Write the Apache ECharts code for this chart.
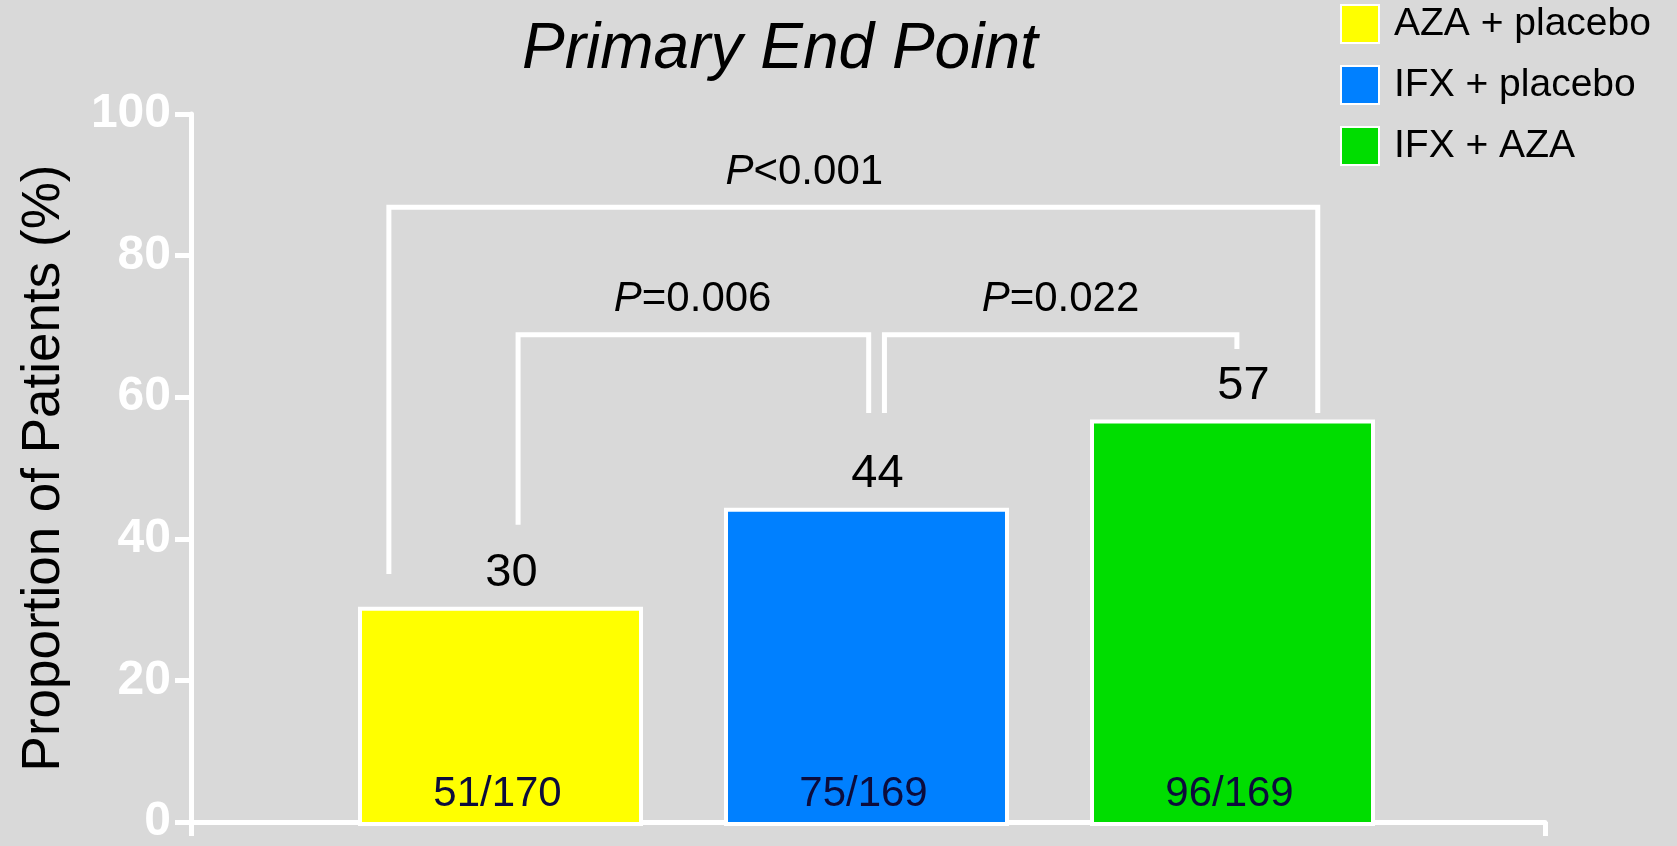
<!DOCTYPE html>
<html>
<head>
<meta charset="utf-8">
<script src="https://cdn.jsdelivr.net/npm/echarts@6/dist/echarts.min.js"></script>
<style>
  html, body { margin: 0; padding: 0; background: #d9d9d9; }
  #chart { width: 1677px; height: 846px; }
</style>
</head>
<body>
<div id="chart"></div>
<script>
// data
const categories = ['AZA + placebo', 'IFX + placebo', 'IFX + AZA']
const proportions = [30.8, 44.7, 57.1]
const valueLabels = ['30', '44', '57']
const countLabels = ['51/170', '75/169', '96/169']
const barColors = ['#ffff00', '#0080ff', '#00dd00']

// significance brackets (x in category units, y in %)
const bracketTexts = ['<0.001', '=0.006', '=0.022']
const bracketLeft = [-0.305, 0.048, 1.049]
const bracketRight = [2.233, 1.006, 2.012]
const bracketTop = [86.9, 69.0, 69.0]
const bracketLeftFoot = [35.4, 42.3, 58.0]
const bracketRightFoot = [58.0, 58.0, 67.0]
const bracketLabelX = [0.83, 0.525, 1.53]
const bracketLabelY = [91.8, 74.0, 74.0]

const FONT = 'Liberation Sans, Arial, sans-serif'

const barSeries = categories.map((name, i) => ({
  name: name,
  type: 'bar',
  xAxisIndex: 0,
  yAxisIndex: 0,
  barWidth: 285,
  barGap: '-100%',
  data: proportions.map((v, j) => (j === i ? v : '-')),
  itemStyle: { color: barColors[i], borderColor: '#ffffff', borderWidth: 4 },
  label: {
    show: true,
    position: 'top',
    distance: 10,
    offset: [11, 0],
    fontSize: 47,
    fontFamily: FONT,
    color: '#000',
    formatter: p => valueLabels[p.dataIndex],
  },
}))

const countSeries = {
  name: 'counts',
  type: 'bar',
  xAxisIndex: 0,
  yAxisIndex: 0,
  barWidth: 285,
  barGap: '-100%',
  data: proportions,
  itemStyle: { color: 'transparent', borderWidth: 0 },
  label: {
    show: true,
    position: 'insideBottom',
    distance: 11,
    offset: [-3, 0],
    fontSize: 42,
    fontFamily: FONT,
    color: '#0c0c3c',
    formatter: p => countLabels[p.dataIndex],
  },
  silent: true,
}

const bracketSeries = {
  type: 'custom',
  xAxisIndex: 1,
  yAxisIndex: 0,
  clip: false,
  data: bracketLabelX.map((x, i) => [x, bracketTop[i]]),
  renderItem: (params, api) => {
    const i = params.dataIndex
    const pts = [
      [bracketLeft[i], bracketLeftFoot[i]],
      [bracketLeft[i], bracketTop[i]],
      [bracketRight[i], bracketTop[i]],
      [bracketRight[i], bracketRightFoot[i]],
    ].map(p => api.coord(p))
    const lp = api.coord([bracketLabelX[i], bracketLabelY[i]])
    return {
      type: 'group',
      children: [
        {
          type: 'polyline',
          shape: { points: pts },
          style: { stroke: '#ffffff', lineWidth: 5, fill: null, lineJoin: 'miter', lineCap: 'butt' },
        },
        {
          type: 'text',
          x: lp[0],
          y: lp[1],
          style: {
            text: '{i|P}' + bracketTexts[i],
            fontSize: 42,
            fontFamily: FONT,
            fill: '#000',
            align: 'center',
            verticalAlign: 'middle',
            rich: { i: { fontStyle: 'italic', fontSize: 42, fontFamily: FONT, fill: '#000' } },
          },
        },
      ],
    }
  },
}

const options = {
  backgroundColor: '#d9d9d9',
  animation: false,
  title: {
    text: 'Primary End Point',
    left: 517,
    top: 13,
    textStyle: { fontSize: 64, fontStyle: 'italic', fontWeight: 'normal', fontFamily: FONT, color: '#000' },
  },
  legend: {
    data: categories,
    orient: 'vertical',
    left: 1340,
    top: 4,
    padding: 0,
    itemWidth: 38,
    itemHeight: 38,
    itemGap: 21,
    icon: 'rect',
    textStyle: { fontSize: 39, fontFamily: FONT, color: '#000', padding: [0, 0, 0, 10] },
  },
  grid: [
    { left: 317.5, width: 1098, top: 114, bottom: 20 },
    { left: 191, right: 132, top: 114, bottom: 20 },
  ],
  xAxis: [
    { type: 'category', gridIndex: 0, data: categories, show: false },
    { type: 'value', gridIndex: 0, min: -0.5, max: 2.5, show: false },
    {
      type: 'category',
      gridIndex: 1,
      data: [''],
      axisLine: { lineStyle: { color: '#ffffff', width: 5 } },
      axisTick: { show: true, length: 14, lineStyle: { color: '#ffffff', width: 5 } },
      axisLabel: { show: false },
    },
  ],
  yAxis: [
    { type: 'value', gridIndex: 0, min: 0, max: 100, show: false },
    {
      type: 'value',
      gridIndex: 1,
      min: 0,
      max: 100,
      interval: 20,
      name: 'Proportion of Patients (%)',
      nameLocation: 'middle',
      nameRotate: 90,
      nameGap: 120,
      nameTextStyle: { fontSize: 53, fontFamily: FONT, color: '#000' },
      axisLine: { show: true, lineStyle: { color: '#ffffff', width: 5 } },
      axisTick: { show: true, length: 16, lineStyle: { color: '#ffffff', width: 5 } },
      axisLabel: { fontSize: 48, fontWeight: 'bold', fontFamily: FONT, color: '#ffffff', margin: 20, padding: [5, 0, 0, 0] },
      splitLine: { show: false },
    },
  ],
  series: [...barSeries, countSeries, bracketSeries],
}

const chart = echarts.init(document.getElementById('chart'))
chart.setOption(options)
</script>
</body>
</html>
